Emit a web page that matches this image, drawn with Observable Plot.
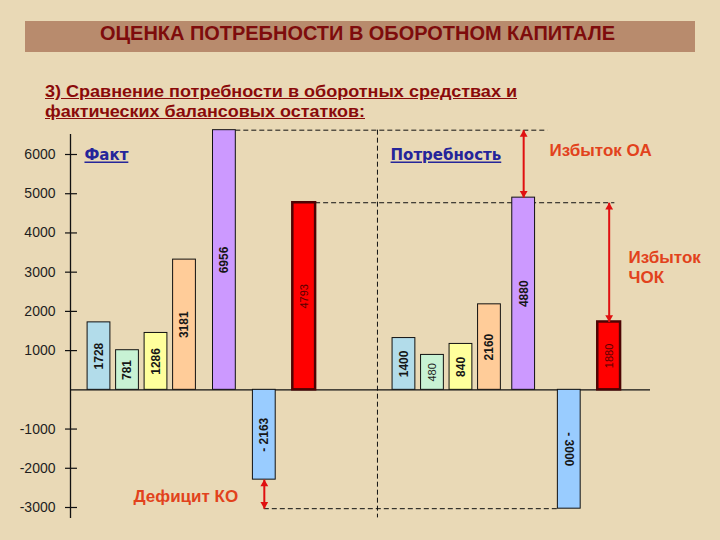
<!DOCTYPE html>
<html>
<head>
<meta charset="utf-8">
<script src="https://cdn.jsdelivr.net/npm/d3@7"></script>
<script src="https://cdn.jsdelivr.net/npm/@observablehq/plot@0.6"></script>
<style>
html,body{margin:0;padding:0;background:#e9d9b6;}
#page{position:relative;width:720px;height:540px;overflow:hidden;background:#e9d9b6;}
#bar{position:absolute;left:25px;top:21px;width:670px;height:31px;background:#b88b6d;}
#title{position:absolute;left:100px;top:21px;height:31px;line-height:31px;font:bold 21px "Liberation Sans Narrow","Liberation Sans",Arial,sans-serif;color:#7e0c0c;white-space:nowrap;transform-origin:left center;}
.sub{position:absolute;left:45px;font:bold 16px "Liberation Sans",Arial,sans-serif;line-height:20px;color:#8a0a0a;text-decoration:underline;white-space:nowrap;transform-origin:left center;}
#chart{position:absolute;left:0;top:120px;}
</style>
</head>
<body>
<div id="page">
  <div id="bar"></div>
  <div id="title">ОЦЕНКА ПОТРЕБНОСТИ В ОБОРОТНОМ КАПИТАЛЕ</div>
  <div class="sub" id="sub1" style="top:82px">3) Сравнение потребности в оборотных средствах и</div>
  <div class="sub" id="sub2" style="top:102px">фактических балансовых остатков:</div>
  <div id="chart"></div>
</div>
<script>
// ---- data ----
const labels = ["1728","781","1286","3181","6956","- 2163","4793","1400","480","840","2160","4880","- 3000","1880"];
const values = [1720, 1010, 1450, 3320, 6620, -2290, 4770, 1320, 890, 1170, 2180, 4900, -3030, 1730];
const kinds  = ["a","b","c","d","e","neg","red","a","b","c","d","e","neg","red"];
const yTicks = [-3000,-2000,-1000,1000,2000,3000,4000,5000,6000];
const sectionNames = ["Факт","Потребность"];
const noteNames = ["Избыток ОА","Избыток","ЧОК","Дефицит КО"];

// ---- layout / style ----
const kindColor = {a:"#b2dcea", b:"#c8f2d4", c:"#ffff9c", d:"#ffcc99", e:"#cc99ff", neg:"#99ccff", red:"#ff0000"};
const gaps = [1,1,1,1.4,1.4,1.4,3.5,1,1,1,1.2,1.6,1.4];
const xs = [1]; gaps.forEach(g => xs.push(xs[xs.length-1] + g));
const data = labels.map((label,i) => ({label, v: values[i], kind: kinds[i], x: xs[i]}));
const half = 0.4;
const sepX = xs[7] - 0.93;
const red = "#e01010", noteRed = "#e2421c", blue = "#25259a";

const arrows = [
  {x: xs[11], y1: values[4], y2: values[11]},
  {x: xs[13], y1: values[6], y2: values[13]},
  {x: xs[5],  y1: values[5], y2: values[12]}
];
const sections = [
  {t: sectionNames[0], x: 0.49, y: 5970},
  {t: sectionNames[1], x: 11.23, y: 5970}
];
const notes = [
  {t: noteNames[0], x: 16.81, y: 6100},
  {t: noteNames[1], x: 19.58, y: 3370},
  {t: noteNames[2], x: 19.58, y: 2860},
  {t: noteNames[3], x: 2.21,  y: -2730}
];

const chart = Plot.plot({
  width: 720, height: 420,
  marginLeft: 70, marginRight: 70, marginTop: 34, marginBottom: 33,
  x: {domain: [0, 20.35], axis: null},
  y: {domain: [-3000, 6000], axis: null},
  color: {type: "identity"},
  style: {background: "transparent", fontFamily: "'Liberation Sans', Arial, sans-serif", overflow: "visible"},
  marks: [
    // dashed guides
    Plot.ruleY([values[4]], {x1: xs[4] + half, x2: xs[11] + 0.85, stroke: "#111", strokeWidth: 1, strokeDasharray: "5,3"}),
    Plot.ruleY([values[6]], {x1: xs[6] + half, x2: xs[13] + 0.2, stroke: "#111", strokeWidth: 1, strokeDasharray: "5,3"}),
    Plot.ruleY([values[12]], {x1: xs[5], x2: xs[12] - half, stroke: "#111", strokeWidth: 1, strokeDasharray: "5,3"}),
    Plot.ruleX([sepX], {y1: values[4], y2: -3265, stroke: "#111", strokeWidth: 1, strokeDasharray: "5,3"}),
    // axes
    Plot.ruleY([0], {x1: 0, x2: 20.35, stroke: "#111", strokeWidth: 1.2}),
    Plot.ruleX([0], {y1: 6510, y2: -3280, stroke: "#111", strokeWidth: 1.3}),
    Plot.ruleY(yTicks, {x1: -0.175, x2: 0.245, stroke: "#111", strokeWidth: 1.2}),
    Plot.text(yTicks, {x: 0, y: d => d, text: d => String(d), textAnchor: "end", dx: -15, fontSize: 14, fill: "#1e1e1e"}),
    // bars
    Plot.rect(data.filter(d => d.kind !== "red"), {x1: d => d.x - half, x2: d => d.x + half, y1: 0, y2: "v", fill: d => kindColor[d.kind], stroke: "#111", strokeWidth: 1}),
    Plot.rect(data.filter(d => d.kind === "red"), {x1: d => d.x - half, x2: d => d.x + half, y1: 0, y2: "v", fill: d => kindColor[d.kind], stroke: "#4d0404", strokeWidth: 2.5}),
    // value labels
    Plot.text(data.filter(d => d.kind !== "red" && d.label !== "480"), {x: "x", y: d => d.v / 2, text: "label", rotate: d => d.label === "- 3000" ? 90 : -90, fontSize: 12, fontWeight: "bold", fill: "#161616"}),
    Plot.text(data.filter(d => d.label === "480"), {x: "x", y: d => d.v / 2, text: "label", rotate: -90, fontSize: 11, fill: "#222"}),
    Plot.text(data.filter(d => d.kind === "red"), {x: "x", y: d => d.v / 2, text: "label", rotate: -90, fontSize: 11, fill: "#5a0000"}),
    // arrows
    Plot.link(arrows, {x1: "x", x2: "x", y1: "y1", y2: "y2", stroke: red, strokeWidth: 2}),
    Plot.dot(arrows, {x: "x", y: "y1", symbol: "triangle", r: 2.9, fill: red, stroke: "none", dy: 4.4}),
    Plot.dot(arrows, {x: "x", y: "y2", symbol: "triangle", r: 2.9, fill: red, stroke: "none", rotate: 180, dy: -4.4}),
    // annotations
    Plot.text(sections, {x: "x", y: "y", text: "t", textAnchor: "start", fontSize: 15, fontWeight: "bold", fill: blue, fontFamily: "'DejaVu Sans', sans-serif"}),
    Plot.text(notes, {x: "x", y: "y", text: "t", textAnchor: "start", fontSize: 17, fontWeight: "bold", fill: noteRed})
  ]
});
document.getElementById("chart").appendChild(chart);
d3.select(chart).selectAll("text").filter(function(){ return sectionNames.includes(this.textContent); })
  .style("text-decoration", "underline");

function fit(id, w) {
  const el = document.getElementById(id);
  const r = el.getBoundingClientRect().width;
  el.style.transform = "scaleX(" + (w / r) + ")";
}
fit("title", 515);
fit("sub1", 472);
fit("sub2", 320);
</script>
</body>
</html>
